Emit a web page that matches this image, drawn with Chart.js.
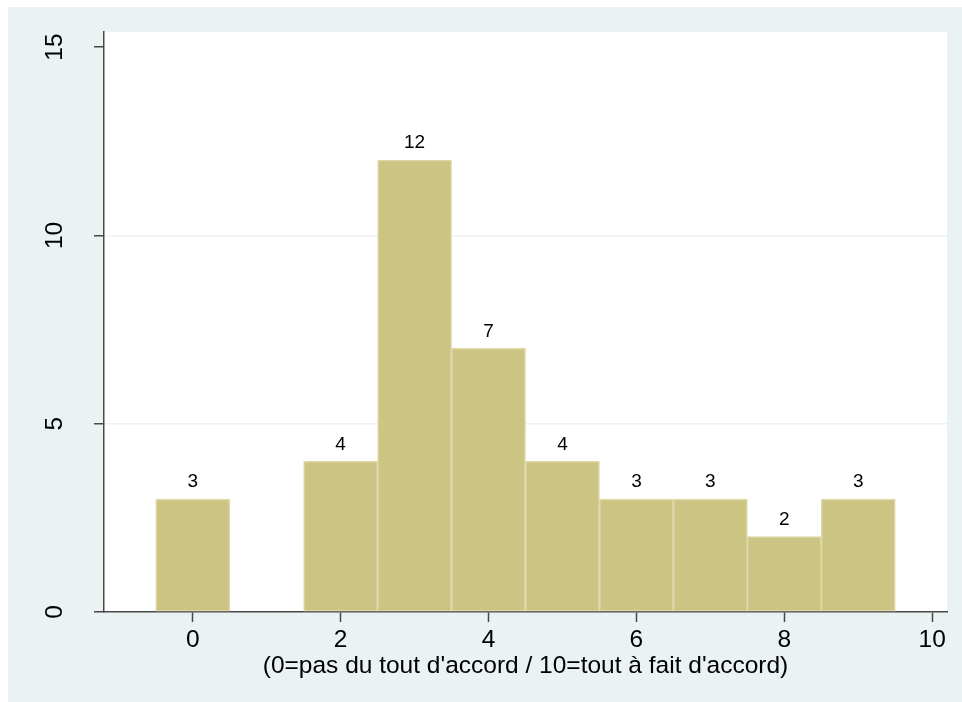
<!DOCTYPE html>
<html>
<head>
<meta charset="utf-8">
<script src="https://cdn.jsdelivr.net/npm/chart.js@4"></script>
<style>
  html, body { margin: 0; padding: 0; background: #ffffff; overflow: hidden; }
  #wrap { position: absolute; left: 8px; top: 7px; width: 954px; height: 695px; background: #eaf2f3; }
  canvas { display: block; }
</style>
</head>
<body>
<div id="wrap"><canvas id="hist" width="954" height="695"></canvas></div>
<script>
// Scores (bin centres) and how many answers fell in each
const scores = [0, 2, 3, 4, 5, 6, 7, 8, 9];
const counts = [3, 4, 12, 7, 4, 3, 3, 2, 3];
const yTicks = [0, 5, 10, 15];
const xTitle = "(0=pas du tout d'accord / 10=tout à fait d'accord)";

const FONT = "'Liberation Sans', Arial, sans-serif";
const AXIS = '#484848';

// white plot region
const plotBg = {
  id: 'plotBg',
  beforeDraw(chart) {
    const { ctx, chartArea: a } = chart;
    ctx.save();
    ctx.fillStyle = '#ffffff';
    ctx.fillRect(a.left, a.top, a.right - a.left, a.bottom - a.top);
    ctx.restore();
  }
};

// rotated y tick labels, Stata style
const yLabels = {
  id: 'yLabels',
  afterDraw(chart) {
    const { ctx } = chart;
    const y = chart.scales.y;
    ctx.save();
    ctx.fillStyle = '#000';
    ctx.font = '24.5px ' + FONT;
    ctx.textAlign = 'center';
    ctx.textBaseline = 'middle';
    y.ticks.forEach(t => {
      const py = y.getPixelForValue(t.value);
      ctx.save();
      ctx.translate(47, py);
      ctx.rotate(-Math.PI / 2);
      ctx.fillText(String(t.value), 0, 0);
      ctx.restore();
    });
    ctx.restore();
  }
};

// counts above bars
const barLabels = {
  id: 'barLabels',
  afterDatasetsDraw(chart) {
    const { ctx } = chart;
    const meta = chart.getDatasetMeta(0);
    ctx.save();
    ctx.fillStyle = '#000';
    ctx.font = '19px ' + FONT;
    ctx.textAlign = 'center';
    ctx.textBaseline = 'middle';
    meta.data.forEach((bar, i) => {
      ctx.fillText(String(counts[i]), bar.x, bar.y - 17);
    });
    ctx.restore();
  }
};

new Chart(document.getElementById('hist').getContext('2d'), {
  type: 'bar',
  data: {
    datasets: [{
      data: scores.map((s, i) => ({ x: s, y: counts[i] })),
      backgroundColor: '#cbc482',
      borderColor: '#dcd8a6',
      borderWidth: 1.5,
      borderSkipped: false,
      barPercentage: 1,
      categoryPercentage: 1
    }]
  },
  options: {
    responsive: false,
    animation: false,
    layout: { padding: { top: 25, right: 15, left: 0, bottom: 0 } },
    plugins: { legend: { display: false }, tooltip: { enabled: false } },
    scales: {
      x: {
        type: 'linear',
        min: -1.2,
        max: 10.2,
        offset: false,
        afterFit(s) { s.height = 90; },
        ticks: {
          stepSize: 2,
          includeBounds: false,
          color: '#000',
          padding: 4,
          maxRotation: 0,
          font: { family: FONT, size: 24.5 }
        },
        grid: { offset: false, drawOnChartArea: false, drawTicks: true, tickLength: 10, tickColor: AXIS, tickWidth: 1.5 },
        border: { display: true, color: AXIS, width: 1.5 },
        title: {
          display: true,
          text: xTitle,
          color: '#000',
          font: { family: FONT, size: 24.5 },
          padding: { top: 0, bottom: 21 }
        }
      },
      y: {
        min: 0,
        max: 15.4,
        afterFit(s) { s.width = 96; },
        afterBuildTicks(s) { s.ticks = yTicks.map(v => ({ value: v })); },
        ticks: { display: false },
        grid: {
          color: ctx => (ctx.tick && (ctx.tick.value === 5 || ctx.tick.value === 10)) ? '#eaf2f3' : 'rgba(0,0,0,0)',
          lineWidth: 1.5,
          drawTicks: true,
          tickLength: 10,
          tickColor: AXIS,
          tickWidth: 1.5
        },
        border: { display: true, color: AXIS, width: 1.5 }
      }
    }
  },
  plugins: [plotBg, yLabels, barLabels]
});
</script>
</body>
</html>
